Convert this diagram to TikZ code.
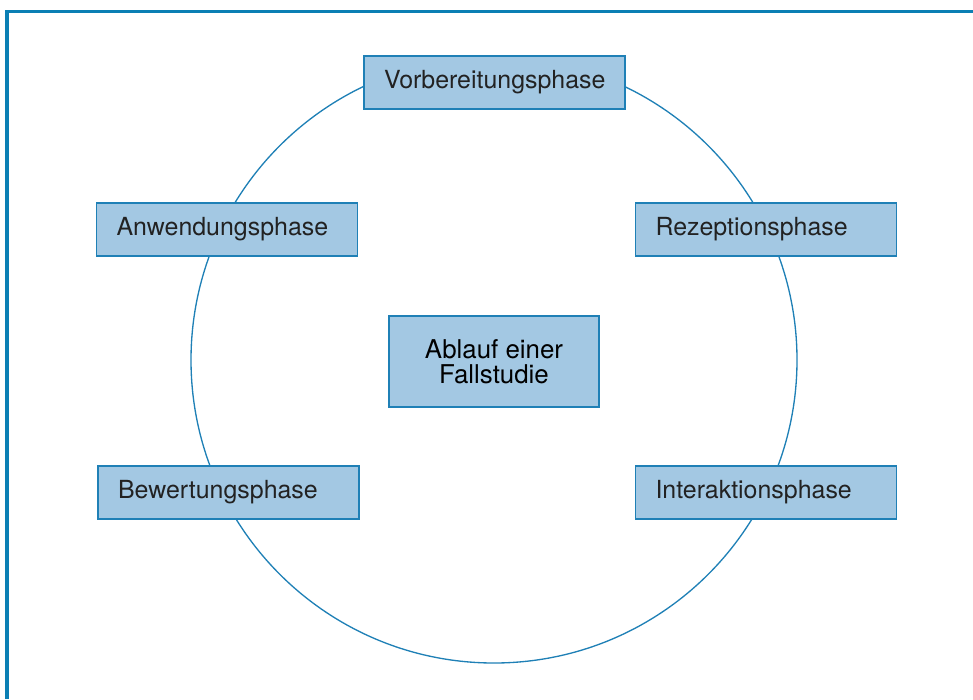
\documentclass[tikz,border=0pt]{standalone}
\usepackage{fontspec}
\setmainfont{TeX Gyre Heros}
\usepackage{tikz}
\usetikzlibrary{calc,positioning}
\definecolor{rahmen}{HTML}{0B7FB4}
\definecolor{kasten}{HTML}{A3C8E3}
\definecolor{kreis}{HTML}{1F80B6}
\definecolor{schrift}{HTML}{222222}

\begin{document}
\begin{tikzpicture}[x=0.75pt,y=-0.75pt,
    phase/.style={draw=kreis,line width=1.1pt,fill=kasten,text=schrift,
      minimum height=39.75pt,inner xsep=15pt,inner ysep=0pt,
      text width=165.75pt,align=left,
      font=\fontsize{18.7}{22}\selectfont},
    mitte/.style={draw=kreis,line width=1.1pt,fill=kasten,text=black,
      minimum width=157.5pt,minimum height=68.25pt,align=center,
      font=\fontsize{19.4}{19}\selectfont}]
              \useasboundingbox (0,0) rectangle (973,699);
              \draw[rahmen,line width=2.4pt] (7,699) -- (7,11.5) -- (973,11.5);
              \node[mitte](fall)at(494,361.5){Ablauf einer\\Fallstudie};
              \draw[kreis,line width=1pt](494,360) circle[radius=227.25pt];
              \node[phase](vor)at(494.5,82.5){Vorbereitungsphase};
              \node[phase](rez)at(766,229.5){Rezeptionsphase};
              \node[phase](int)at(766,492.5){Interaktionsphase};
              \node[phase](bew)at(228.5,492.5){Bewertungsphase};
              \node[phase](anw)at(227,229.5){Anwendungsphase};
            \end{tikzpicture}
\end{document}
